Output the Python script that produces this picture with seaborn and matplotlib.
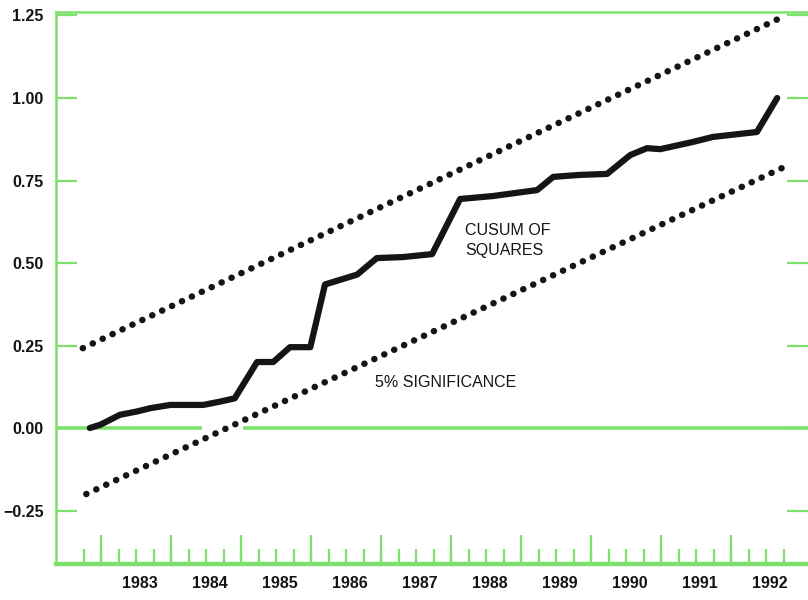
import numpy as np
import pandas as pd
import matplotlib
matplotlib.use("Agg")
import matplotlib.pyplot as plt
import seaborn as sns

# CUSUM of squares statistic (decimal year, value)
cusum_year = [1982.84, 1982.99, 1983.27, 1983.51, 1983.70, 1983.99, 1984.46, 1984.70,
              1984.91, 1985.23, 1985.46, 1985.70, 1985.99, 1986.20, 1986.66, 1986.94,
              1987.31, 1987.73, 1988.13, 1988.60, 1989.23, 1989.46, 1989.84, 1990.23,
              1990.56, 1990.80, 1990.99, 1991.46, 1991.74, 1992.37, 1992.66]
cusum_value = [0.000, 0.010, 0.040, 0.050, 0.060, 0.070, 0.070, 0.080,
               0.090, 0.200, 0.200, 0.245, 0.245, 0.435, 0.465, 0.515,
               0.518, 0.527, 0.694, 0.703, 0.721, 0.761, 0.767, 0.770,
               0.827, 0.848, 0.845, 0.867, 0.882, 0.897, 1.000]

# 5% significance bounds (straight lines, end points)
upper_year = [1982.74, 1992.70]
upper_value = [0.242, 1.242]
lower_year = [1982.79, 1992.73]
lower_value = [-0.200, 0.788]

# axis annotation
year_labels = [1983, 1984, 1985, 1986, 1987, 1988, 1989, 1990, 1991, 1992]
y_ticks = [-0.25, 0.00, 0.25, 0.50, 0.75, 1.00, 1.25]

GREEN = "#7ee06c"
INK = "#151515"

sns.set_theme(style="white")
plt.rcParams["font.family"] = ["Liberation Sans", "DejaVu Sans"]

fig = plt.figure(figsize=(8.08, 6.0), dpi=100)
fig.patch.set_facecolor("white")
ax = fig.add_axes([56 / 808, 36 / 600, 1 - 56 / 808, 552 / 600])
ax.set_facecolor("white")

x_lo, x_hi = 1982.357, 1993.10
ax.set_xlim(x_lo, x_hi)
ax.set_ylim(-0.412, 1.2606)

# zero reference line (broken where the lower bound crosses it)
ax.hlines(0.0, x_lo, 1984.44, color=GREEN, lw=2.6, zorder=1)
ax.hlines(0.0, 1985.03, x_hi, color=GREEN, lw=2.6, zorder=1)

cusum_df = pd.DataFrame({"year": cusum_year, "value": cusum_value})
bounds_df = pd.DataFrame({
    "year": upper_year + lower_year,
    "value": upper_value + lower_value,
    "bound": ["upper"] * 2 + ["lower"] * 2,
})

# dotted bounds: tiny dashes with round caps give round dots
for name in ["upper", "lower"]:
    sub = bounds_df[bounds_df["bound"] == name]
    sns.lineplot(data=sub, x="year", y="value", ax=ax, color=INK, lw=4.7,
                 estimator=None, sort=False, zorder=3,
                 linestyle=(0, (0.02, 1.66)), dash_capstyle="round")

sns.lineplot(data=cusum_df, x="year", y="value", ax=ax, color=INK, lw=4.5,
             estimator=None, sort=False, zorder=4)
ax.lines[-1].set_solid_joinstyle("round")
ax.lines[-1].set_solid_capstyle("round")

ax.set_xlabel("")
ax.set_ylabel("")

# frame
for side in ["left", "top"]:
    ax.spines[side].set_color(GREEN)
    ax.spines[side].set_linewidth(1.8)
ax.spines["bottom"].set_color(GREEN)
ax.spines["bottom"].set_linewidth(3.2)
ax.spines["right"].set_visible(False)

# y axis
ax.set_yticks(y_ticks)
ax.set_yticklabels([f"{v:.2f}".replace("-", "\u2212") for v in y_ticks],
                   fontweight="bold", fontsize=11.5, color=INK)
ax.tick_params(axis="y", which="major", direction="in", length=15, width=1.6,
               color=GREEN, left=True, right=True, pad=9)

# x axis: labels centred in each year, quarterly and yearly ticks
ax.set_xticks([y + 0.55 for y in year_labels])
ax.set_xticklabels([str(y) for y in year_labels], fontweight="bold",
                   fontsize=11.5, color=INK)
ax.tick_params(axis="x", which="major", length=0, pad=9, bottom=True)
quarters = np.arange(1982.75, 1992.76, 0.25)
ax.set_xticks(quarters, minor=True)
ax.tick_params(axis="x", which="minor", direction="in", length=10.8, width=1.6,
               color=GREEN, bottom=True)

sec = ax.secondary_xaxis("bottom")
sec.set_xticks(year_labels)
sec.set_xticklabels([])
sec.tick_params(axis="x", direction="in", length=21, width=1.6, color=GREEN,
                bottom=True)
sec.spines["bottom"].set_visible(False)

# annotations
ax.text(1988.20, 0.585, "CUSUM OF", fontsize=11.5, color=INK, ha="left", va="baseline")
ax.text(1988.20, 0.524, "SQUARES", fontsize=11.5, color=INK, ha="left", va="baseline")
ax.text(1986.91, 0.124, "5% SIGNIFICANCE", fontsize=11.5, color=INK, ha="left", va="baseline")

fig.savefig("out.png", dpi=100, facecolor="white")
